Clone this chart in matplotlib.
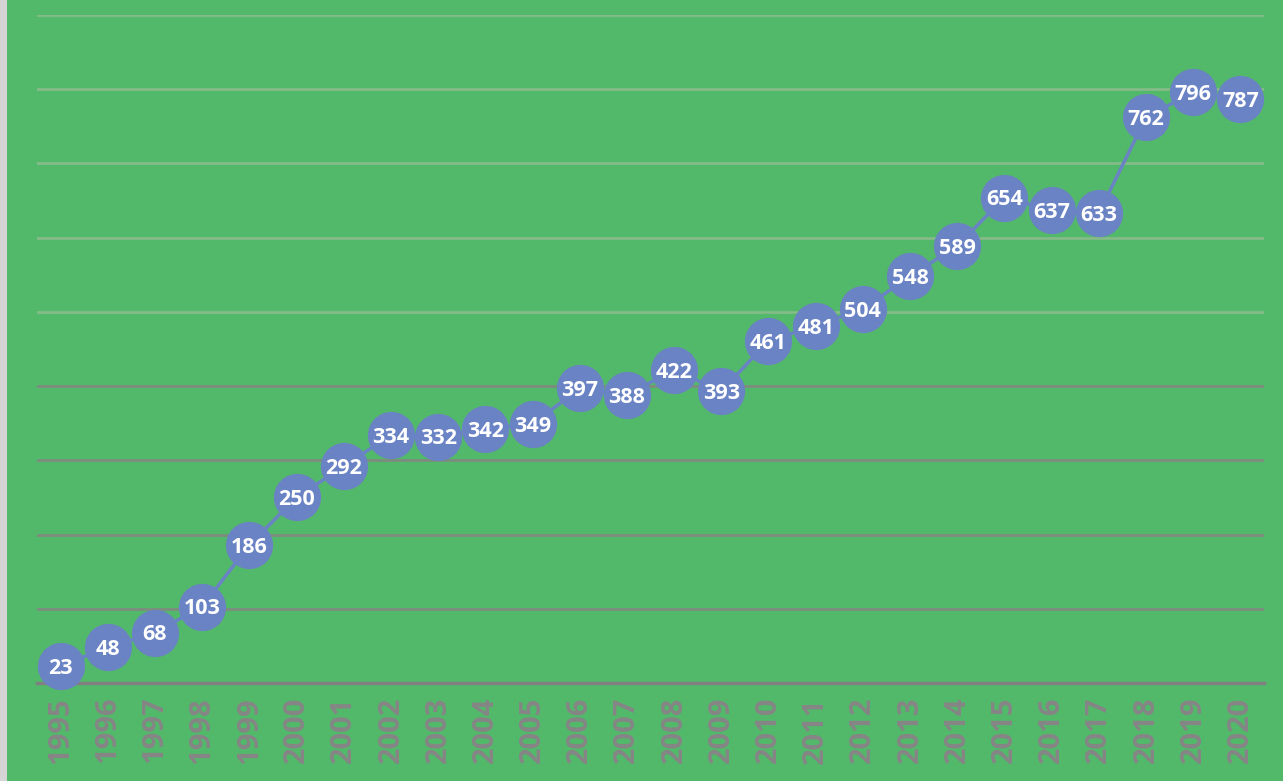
import matplotlib.pyplot as plt
from matplotlib.patches import Rectangle

years = [str(y) for y in range(1995, 2021)]
values = [23, 48, 68, 103, 186, 250, 292, 334, 332, 342, 349, 397, 388,
          422, 393, 461, 481, 504, 548, 589, 654, 637, 633, 762, 796, 787]
grid_levels = [100, 200, 300, 400, 500, 600, 700, 800, 900]

green = '#53b96a'
blue = '#6a83c4'

fig = plt.figure(figsize=(12.83, 7.81), dpi=100)
fig.patch.set_facecolor(green)
# light strip on the left edge
fig.patches.append(Rectangle((0, 0), 7 / 1283, 1, transform=fig.transFigure,
                             facecolor='#d4d4d4', edgecolor='none'))

ax = fig.add_axes([37 / 1283, 98 / 781, 1227 / 1283, 668 / 781])
ax.set_facecolor(green)

x = list(range(len(years)))
for g in grid_levels:
    col = '#7e8c80' if g <= 400 else '#84bb87'
    ax.axhline(g, color=col, lw=2, zorder=1)

ax.plot(x, values, color=blue, lw=2.5, marker='o', markersize=33,
        markerfacecolor=blue, markeredgecolor=blue, zorder=3, clip_on=False)
for xi, v in zip(x, values):
    ax.text(xi, v - 3, str(v), color='white', fontsize=15.5, fontweight='bold',
            family='Open Sans', ha='center', va='center', zorder=4)

ax.set_xlim(-0.5, len(years) - 0.5)
ax.set_ylim(0, 900)
ax.set_xticks(x)
ax.set_xticklabels(years, rotation=90, fontsize=21, fontweight='bold',
                   color='#858585', family='Open Sans')
ax.tick_params(axis='x', length=0, pad=10)
ax.set_yticks([])
for s in ['top', 'right', 'left']:
    ax.spines[s].set_visible(False)
ax.spines['bottom'].set_color('#808080')
ax.spines['bottom'].set_linewidth(2.5)
ax.spines['bottom'].set_zorder(2)

fig.savefig('out.png', dpi=100, facecolor=green)
